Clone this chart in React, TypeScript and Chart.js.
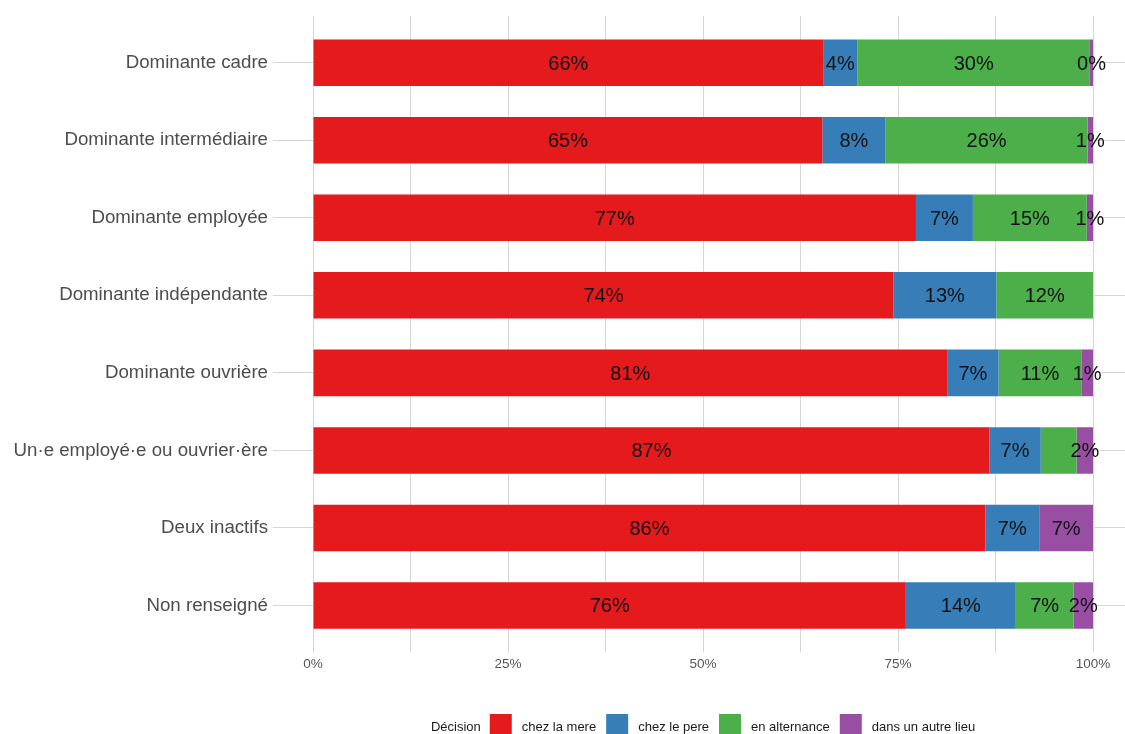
import React, { useEffect, useRef } from "react";
import { Chart, registerables } from "chart.js";

Chart.register(...registerables);

const categories = [
  "Dominante cadre",
  "Dominante intermédiaire",
  "Dominante employée",
  "Dominante indépendante",
  "Dominante ouvrière",
  "Un·e employé·e ou ouvrier·ère",
  "Deux inactifs",
  "Non renseigné",
];

const seriesNames = ["chez la mere", "chez le pere", "en alternance", "dans un autre lieu"];
const seriesColors = ["#E41A1C", "#377EB8", "#4DAF4A", "#984EA3"];

const chezLaMere = [65.4, 65.3, 77.3, 74.4, 81.3, 86.7, 86.2, 76.0];
const chezLePere = [4.4, 8.1, 7.3, 13.2, 6.6, 6.6, 6.9, 14.1];
const enAlternance = [29.8, 25.9, 14.6, 12.4, 10.6, 4.6, 0, 7.4];
const autreLieu = [0.4, 0.7, 0.8, 0, 1.5, 2.1, 6.9, 2.5];

const mereLabels = ["66%", "65%", "77%", "74%", "81%", "87%", "86%", "76%"];
const pereLabels = ["4%", "8%", "7%", "13%", "7%", "7%", "7%", "14%"];
const alternanceLabels = ["30%", "26%", "15%", "12%", "11%", null, null, "7%"];
const autreLabels = ["0%", "1%", "1%", null, "1%", "2%", "7%", "2%"];

const xGridValues = [0, 12.5, 25, 37.5, 50, 62.5, 75, 87.5, 100];
const xTickLabels = ["0%", "", "25%", "", "50%", "", "75%", "", "100%"];

const legendTitle = "Décision";

const FONT = '"Liberation Sans", Arial, Helvetica, sans-serif';

export default function App() {
  const canvasRef = useRef<HTMLCanvasElement | null>(null);

  useEffect(() => {
    if (!canvasRef.current) return;
    const seriesValues = [chezLaMere, chezLePere, enAlternance, autreLieu];
    const seriesLabels = [mereLabels, pereLabels, alternanceLabels, autreLabels];

    const barLabelPlugin = {
      id: "barLabels",
      afterDatasetsDraw(chart: any) {
        const ctx = chart.ctx;
        ctx.save();
        ctx.font = `20px ${FONT}`;
        ctx.fillStyle = "#111111";
        ctx.textAlign = "center";
        ctx.textBaseline = "middle";
        chart.data.datasets.forEach((_ds: any, di: number) => {
          const meta = chart.getDatasetMeta(di);
          meta.data.forEach((bar: any, i: number) => {
            const txt = seriesLabels[di][i];
            if (!txt) return;
            const p = bar.getProps(["x", "y", "base"], true);
            ctx.fillText(txt, (p.x + p.base) / 2, p.y + 1.5);
          });
        });
        ctx.restore();
      },
    };

    const legendPlugin = {
      id: "ggLegend",
      afterDraw(chart: any) {
        const ctx = chart.ctx;
        const xs = chart.scales.x;
        const center = xs.getPixelForValue(50);
        ctx.save();
        ctx.font = `13px ${FONT}`;
        const box = 22;
        const titleGap = 9;
        const textGap = 10;
        const itemGap = 10;
        const titleW = ctx.measureText(legendTitle).width;
        const items = chart.data.datasets.map((ds: any) => ({
          label: ds.label,
          color: ds.backgroundColor,
          w: ctx.measureText(ds.label).width,
        }));
        let total = titleW + titleGap;
        items.forEach((it: any, i: number) => {
          total += box + textGap + it.w + (i < items.length - 1 ? itemGap : 0);
        });
        let x = center - total / 2;
        const boxTop = chart.height - 20;
        const yMid = boxTop + 13.5;
        ctx.textBaseline = "middle";
        ctx.textAlign = "left";
        ctx.fillStyle = "#1a1a1a";
        ctx.fillText(legendTitle, x, yMid);
        x += titleW + titleGap;
        items.forEach((it: any) => {
          ctx.fillStyle = it.color;
          ctx.fillRect(x, boxTop, box, box);
          x += box + textGap;
          ctx.fillStyle = "#1a1a1a";
          ctx.fillText(it.label, x, yMid);
          x += it.w + itemGap;
        });
        ctx.restore();
      },
    };

    const chart = new Chart(canvasRef.current, {
      type: "bar",
      data: {
        datasets: seriesNames.map((name, si) => ({
          label: name,
          data: seriesValues[si].map((v, i) => ({ x: v, y: i })),
          backgroundColor: seriesColors[si],
          borderWidth: 0,
          categoryPercentage: 1,
          barPercentage: 0.6,
        })),
      },
      options: {
        indexAxis: "y",
        animation: false,
        responsive: true,
        maintainAspectRatio: false,
        devicePixelRatio: 1,
        layout: { padding: { left: 0, right: 0, top: 15, bottom: 52 } },
        plugins: {
          legend: { display: false },
          tooltip: { enabled: false },
        },
        scales: {
          x: {
            type: "linear",
            position: "bottom",
            stacked: true,
            offset: false,
            min: -5.13,
            max: 104.1,
            afterBuildTicks: (scale: any) => {
              scale.ticks = xGridValues.map((v) => ({ value: v }));
            },
            afterFit: (scale: any) => {
              scale.height = 30;
            },
            ticks: {
              autoSkip: false,
              maxRotation: 0,
              padding: 4,
              color: "#555555",
              font: { family: FONT, size: 13.5 },
              callback: (_v: any, i: number) => xTickLabels[i],
            },
            grid: { color: "#d6d6d6", lineWidth: 1, drawTicks: false, offset: false },
            border: { display: false },
          },
          y: {
            type: "linear",
            reverse: true,
            stacked: true,
            offset: false,
            min: -0.6,
            max: 7.6,
            afterBuildTicks: (scale: any) => {
              scale.ticks = categories.map((_c, i) => ({ value: i }));
            },
            afterFit: (scale: any) => {
              scale.width = 273;
            },
            ticks: {
              autoSkip: false,
              padding: 5,
              color: "#4d4d4d",
              font: { family: FONT, size: 18.7 },
              callback: (v: any) => categories[v as number],
            },
            grid: { color: "#d6d6d6", lineWidth: 1, drawTicks: false, offset: false },
            border: { display: false },
          },
        },
      },
      plugins: [barLabelPlugin, legendPlugin],
    } as any);

    return () => chart.destroy();
  }, []);

  return (
    <div style={{ position: "absolute", left: 0, top: 0, width: 1125, height: 734 }}>
      <canvas ref={canvasRef} />
    </div>
  );
}
